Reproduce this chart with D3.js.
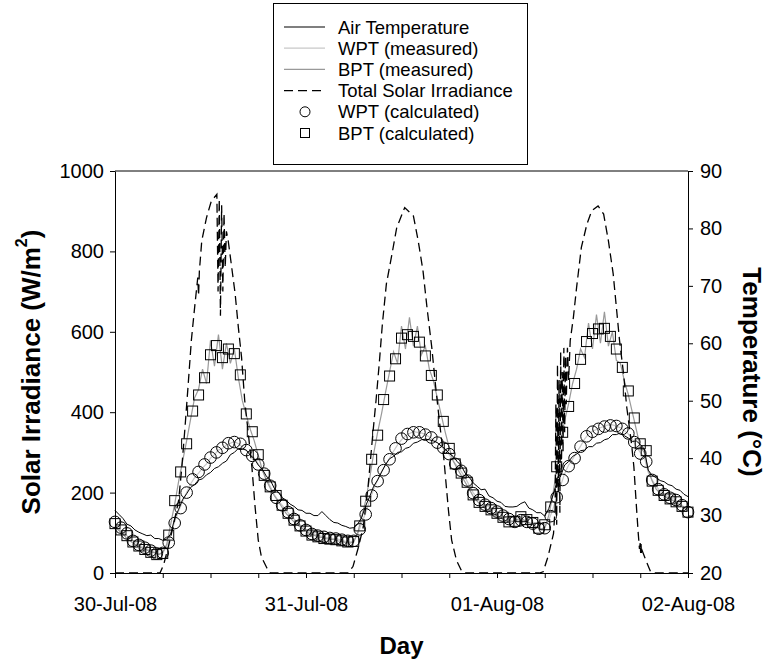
<!DOCTYPE html>
<html>
<head>
<meta charset="utf-8">
<script src="https://d3js.org/d3.v7.min.js"></script>
<style>
  body { margin: 0; background: #fff; }
  svg { font-family: "Liberation Sans", Arial, sans-serif; }
</style>
</head>
<body>
<svg id="chart" width="769" height="660"></svg>
<script>
// x values are hours from 30-Jul-08 00:00
var dayLabels = ["30-Jul-08", "31-Jul-08", "01-Aug-08", "02-Aug-08"];
var irrTicks = [0, 200, 400, 600, 800, 1000];
var tempTicks = [20, 30, 40, 50, 60, 70, 80, 90];
var legendNames = ["Air Temperature", "WPT (measured)", "BPT (measured)",
    "Total Solar Irradiance", "WPT (calculated)", "BPT (calculated)"];

// measured series, every 30 min (rows of 6 h)
var measStep = 0.5;
var airTemp = [
    30.9,30.2,29.5,28.5,28.2,27.5,27.1,26.8,26.5,26.6,26.0,26.0,
    25.7,25.9,26.8,29.5,31.1,32.8,33.8,34.9,35.4,36.2,36.4,37.1,
    37.5,38.2,38.5,39.1,39.5,40.6,41.0,41.7,41.6,41.4,40.5,39.9,
    38.8,38.1,36.9,36.2,34.8,34.1,33.1,32.7,32.0,31.6,31.0,30.9,
    30.4,30.4,30.0,30.0,30.7,30.0,29.3,28.8,28.7,28.3,28.1,27.8,
    27.9,28.5,29.7,31.7,33.3,35.1,36.2,37.6,38.9,39.9,40.3,41.0,
    41.1,41.7,41.9,42.6,42.8,43.2,43.3,43.2,43.0,42.7,42.1,41.6,
    40.8,40.3,39.4,38.7,37.4,36.7,35.7,35.1,34.5,34.6,33.4,33.1,
    32.5,32.3,31.6,31.5,31.5,31.6,32.1,32.4,31.3,31.0,30.5,30.5,
    29.9,31.2,33.4,35.7,36.9,38.8,39.4,40.3,40.7,41.3,41.4,42.0,
    42.0,42.6,42.7,43.2,43.4,44.1,44.1,44.4,43.9,43.5,42.9,43.0,
    42.4,41.6,37.9,37.0,36.6,36.1,35.9,35.4,35.2,34.6,34.4,33.7,
    33.3
];
var wptMeasured = [
    28.3,27.7,27.1,26.5,25.9,25.4,24.9,24.5,24.2,23.9,23.6,23.3,
    23.5,24.6,26.8,28.9,30.8,32.5,34.0,35.5,36.6,37.4,38.3,39.0,
    40.0,40.6,41.4,41.7,42.3,42.6,42.9,42.5,42.0,41.3,40.7,40.0,
    39.0,37.8,36.5,35.1,33.7,32.6,31.8,30.9,30.1,29.4,28.7,28.1,
    27.6,27.1,26.8,26.6,26.4,26.2,26.1,26.0,25.9,25.7,25.5,25.4,
    25.6,26.8,28.7,30.5,32.6,34.6,36.2,37.6,38.8,40.0,41.2,42.3,
    43.2,43.9,44.3,44.6,44.5,44.4,44.1,43.7,43.2,42.7,42.0,41.4,
    40.6,39.5,38.6,37.7,36.6,35.3,34.0,33.1,32.5,31.9,31.5,31.1,
    30.7,30.2,29.7,29.3,29.0,29.1,29.3,29.0,28.8,28.5,27.9,27.6,
    27.9,29.2,31.0,33.3,35.2,37.3,38.8,39.8,41.0,42.1,43.3,44.2,
    44.7,45.0,45.3,45.6,45.8,45.8,45.6,45.3,44.8,44.2,43.3,42.0,
    41.0,40.2,37.5,36.2,35.1,34.3,33.7,33.3,33.0,32.7,32.1,31.5,
    30.8
];
var bptMeasured = [
    28.0,27.4,26.8,26.0,25.5,25.0,24.6,24.3,24.0,23.7,23.5,23.2,
    23.6,25.0,28.5,32.0,36.0,39.5,43.0,46.8,50.5,52.0,55.5,53.0,
    60.5,56.0,61.5,55.5,60.0,56.5,59.0,54.0,50.0,47.5,45.0,43.0,
    40.5,38.0,36.2,34.8,33.5,32.5,31.4,30.4,29.6,28.9,28.3,27.8,
    27.3,26.8,26.6,26.3,26.2,26.0,25.9,25.8,25.6,25.5,25.3,25.2,
    25.4,27.0,29.8,32.6,36.5,40.8,44.5,47.8,51.5,55.0,58.5,56.5,
    63.0,59.0,64.5,59.5,63.0,58.0,59.5,55.5,53.5,50.5,47.5,44.5,
    41.8,39.5,38.2,37.0,35.8,34.6,33.4,32.5,31.8,31.3,30.8,30.4,
    30.0,29.6,29.2,28.8,29.0,29.3,29.6,29.1,28.8,28.4,28.0,27.6,
    27.9,30.0,33.5,38.0,43.0,46.5,49.5,53.0,55.5,59.0,57.5,63.5,
    59.0,65.0,60.0,65.5,59.5,62.0,57.0,56.5,53.5,51.0,48.0,45.0,
    42.0,41.0,38.0,36.0,34.6,33.9,33.4,33.0,32.7,32.3,31.8,31.3,
    30.8
];

// calculated series, every 45 min (rows of 6 h)
var calcStep = 0.75;
var wptCalc = [
    28.9,27.9,26.9,25.6,24.9,24.4,23.9,23.4,
    23.5,25.3,28.7,31.3,34.0,36.3,37.6,38.9,
    40.1,41.0,41.8,42.6,42.8,42.5,41.4,40.4,
    38.9,37.3,35.2,33.1,31.8,30.6,29.4,28.3,
    27.5,26.8,26.5,26.3,26.1,26.0,25.8,25.6,
    25.6,27.6,30.2,33.5,36.0,37.9,39.8,41.7,
    43.4,44.2,44.5,44.5,44.1,43.6,42.7,41.8,
    40.7,39.0,37.8,36.1,33.9,32.7,31.9,31.3,
    30.7,30.0,29.4,28.9,29.2,28.9,28.6,27.7,
    27.8,29.9,33.2,36.2,38.6,40.0,42.0,43.8,
    44.6,45.1,45.5,45.7,45.6,45.1,44.3,42.8,
    40.8,39.4,36.2,34.6,33.7,33.1,32.7,31.8,
    30.6
];
var bptCalc = [
    28.6,27.5,26.5,25.4,24.7,24.1,23.6,23.2,
    23.4,26.6,32.6,37.6,42.5,48.2,51.0,54.0,
    58.0,59.6,57.5,59.0,58.2,54.5,47.7,44.6,
    40.6,37.0,35.0,33.5,31.8,30.4,29.2,28.2,
    27.3,26.6,26.3,26.0,25.9,25.8,25.6,25.4,
    25.5,28.2,32.5,39.8,44.0,50.2,54.3,57.3,
    60.9,61.5,61.2,60.2,57.8,54.4,51.0,46.4,
    41.7,39.0,37.4,35.8,33.6,32.3,31.6,31.0,
    30.4,29.7,28.9,29.0,29.8,29.3,28.8,27.8,
    28.4,31.5,38.5,44.5,49.0,53.0,57.2,60.3,
    61.7,62.5,62.6,61.2,59.0,55.8,51.7,47.0,
    42.5,41.3,36.0,34.4,33.5,32.9,32.4,31.6,
    30.6
];

// total solar irradiance (W/m2), irregular times in hours
var irrHours = [
    0,5.65,6.1,6.7,7.3,8.0,8.4,8.8,9.2,9.6,
    10.05,10.4,10.5,10.6,10.9,11.5,12.1,12.8,12.95,13.1,
    13.25,13.4,13.55,13.7,13.85,14.0,14.2,14.45,15.1,15.5,
    15.9,16.3,16.75,17.2,17.6,18.0,18.4,19.1,19.5,
    29.3,29.9,30.6,31.2,31.8,32.4,32.8,33.2,33.6,34.1,
    34.8,35.4,36.4,37.5,38.1,38.7,39.2,39.8,40.3,40.8,
    41.3,41.9,42.3,42.9,43.6,44.0,
    53.3,53.8,54.4,55.1,55.3,55.4,55.5,55.6,55.7,55.8,
    55.9,56.0,56.1,56.2,56.3,56.4,56.5,56.6,56.7,56.85,
    57.0,57.2,57.6,58.0,58.6,59.3,59.9,60.7,61.4,62.0,
    62.6,63.0,63.4,63.9,64.3,64.9,65.2,65.55,65.75,65.9,
    66.0,66.05,66.1,66.15,66.25,66.7,67.3,67.6,72
];
var irrValues = [
    0,0,20,65,115,181,264,363,470,580,
    669,735,690,750,826,884,925,942,700,930,
    640,915,700,895,760,850,830,793,694,611,
    537,429,347,264,165,82,40,12,0,
    0,16,65,115,215,347,429,520,620,719,
    793,859,909,888,826,752,661,562,462,371,
    289,156,82,32,3,0,
    0,3,40,98,160,420,120,520,200,480,
    150,550,260,500,300,560,350,540,420,560,
    480,578,636,710,810,868,901,913,893,826,
    744,661,578,496,413,322,264,156,98,60,
    75,50,72,45,55,32,3,0,0
];

var svg = d3.select('#chart');
var plotLeft = 115, plotRight = 688, plotTop = 171, plotBottom = 573;

var x = d3.scaleLinear().domain([0, 72]).range([plotLeft, plotRight]);
var yW = d3.scaleLinear().domain([0, 1000]).range([plotBottom, plotTop]);
var yT = d3.scaleLinear().domain([20, 90]).range([plotBottom, plotTop]);

function series(values, step) {
    return values.map(function (v, i) { return [i * step, v]; });
}

var tempLine = d3.line()
    .x(function (d) { return x(d[0]); })
    .y(function (d) { return yT(d[1]); });

var irrLine = d3.line()
    .x(function (d) { return x(d[0]); })
    .y(function (d) { return yW(d[1]); });

var plot = svg.append('g');

plot.append('path')
    .datum(series(wptMeasured, measStep))
    .attr('d', tempLine)
    .attr('fill', 'none')
    .attr('stroke', '#c8c8c8')
    .attr('stroke-width', 1.2);

plot.append('path')
    .datum(series(bptMeasured, measStep))
    .attr('d', tempLine)
    .attr('fill', 'none')
    .attr('stroke', '#999')
    .attr('stroke-width', 1.2);

plot.append('path')
    .datum(series(airTemp, measStep))
    .attr('d', tempLine)
    .attr('fill', 'none')
    .attr('stroke', '#000')
    .attr('stroke-width', 1);

plot.append('path')
    .datum(irrHours.map(function (h, i) { return [h, irrValues[i]]; }))
    .attr('d', irrLine)
    .attr('fill', 'none')
    .attr('stroke', '#000')
    .attr('stroke-width', 1.3)
    .attr('stroke-dasharray', '9,5');

plot.selectAll('circle.wpt')
    .data(series(wptCalc, calcStep))
    .enter()
    .append('circle')
    .attr('class', 'wpt')
    .attr('cx', function (d) { return x(d[0]); })
    .attr('cy', function (d) { return yT(d[1]); })
    .attr('r', 5.8)
    .attr('fill', 'none')
    .attr('stroke', '#000')
    .attr('stroke-width', 1);

plot.selectAll('rect.bpt')
    .data(series(bptCalc, calcStep))
    .enter()
    .append('rect')
    .attr('class', 'bpt')
    .attr('x', function (d) { return x(d[0]) - 5; })
    .attr('y', function (d) { return yT(d[1]) - 5; })
    .attr('width', 10)
    .attr('height', 10)
    .attr('fill', 'none')
    .attr('stroke', '#000')
    .attr('stroke-width', 1);

// axes
function styleAxis(g) {
    g.selectAll('text').attr('font-size', 20).attr('fill', '#000')
        .attr('font-family', '"Liberation Sans", Arial, sans-serif');
    g.selectAll('line').attr('stroke', '#000');
    g.select('.domain').attr('stroke', '#000');
}

svg.append('g')
    .attr('transform', 'translate(' + plotLeft + ',0)')
    .call(d3.axisLeft(yW).tickValues(irrTicks).tickFormat(d3.format('d'))
        .tickSize(5).tickSizeOuter(0).tickPadding(6))
    .call(styleAxis);

svg.append('g')
    .attr('transform', 'translate(' + plotRight + ',0)')
    .call(d3.axisRight(yT).tickValues(tempTicks).tickSize(5).tickSizeOuter(0).tickPadding(7))
    .call(styleAxis);

svg.append('g')
    .attr('transform', 'translate(0,' + plotBottom + ')')
    .call(d3.axisBottom(x).tickValues(d3.range(0, 73, 6)).tickSize(5).tickSizeOuter(0).tickPadding(19)
        .tickFormat(function (d) { return d % 24 === 0 ? dayLabels[d / 24] : ''; }))
    .call(styleAxis);

svg.append('line')
    .attr('x1', plotLeft).attr('x2', plotRight)
    .attr('y1', plotTop).attr('y2', plotTop)
    .attr('stroke', '#000');

// axis titles
svg.append('text')
    .attr('transform', 'translate(31,' + ((plotTop + plotBottom) / 2) + ') rotate(-90)')
    .attr('text-anchor', 'middle')
    .attr('dominant-baseline', 'central')
    .attr('font-size', 26)
    .attr('font-weight', 'bold')
    .call(function (t) {
        t.append('tspan').text('Solar Irradiance (W/m');
        t.append('tspan').attr('font-size', 16).attr('dy', -10).text('2');
        t.append('tspan').attr('dy', 10).text(')');
    });

svg.append('text')
    .attr('transform', 'translate(752,' + ((plotTop + plotBottom) / 2) + ') rotate(90)')
    .attr('text-anchor', 'middle')
    .attr('dominant-baseline', 'central')
    .attr('font-size', 26)
    .attr('font-weight', 'bold')
    .text('Temperature (\u00B0C)');

svg.append('text')
    .attr('x', (plotLeft + plotRight) / 2)
    .attr('y', 654)
    .attr('text-anchor', 'middle')
    .attr('font-size', 24)
    .attr('font-weight', 'bold')
    .text('Day');

// legend
var legend = svg.append('g');
legend.append('rect')
    .attr('x', 273.5).attr('y', 3.5)
    .attr('width', 254).attr('height', 161)
    .attr('fill', '#fff')
    .attr('stroke', '#000');

var rowY = d3.scaleLinear().domain([0, 5]).range([27, 133]);
var sx0 = 284, sx1 = 325, sxm = 305, tx = 338;

legendNames.forEach(function (name, i) {
    var yy = rowY(i);
    var row = legend.append('g');
    if (i < 4) {
        row.append('line')
            .attr('x1', sx0).attr('x2', sx1)
            .attr('y1', yy).attr('y2', yy)
            .attr('stroke', ['#000', '#c8c8c8', '#999', '#000'][i])
            .attr('stroke-width', i === 3 ? 1.3 : 1.2)
            .attr('stroke-dasharray', i === 3 ? '9,5' : null);
    } else if (i === 4) {
        row.append('circle')
            .attr('cx', sxm).attr('cy', yy).attr('r', 5)
            .attr('fill', 'none').attr('stroke', '#000');
    } else {
        row.append('rect')
            .attr('x', sxm - 4.5).attr('y', yy - 4.5)
            .attr('width', 9).attr('height', 9)
            .attr('fill', 'none').attr('stroke', '#000');
    }
    row.append('text')
        .attr('x', tx).attr('y', yy)
        .attr('dominant-baseline', 'central')
        .attr('font-size', 18.5)
        .text(name);
});
</script>
</body>
</html>
